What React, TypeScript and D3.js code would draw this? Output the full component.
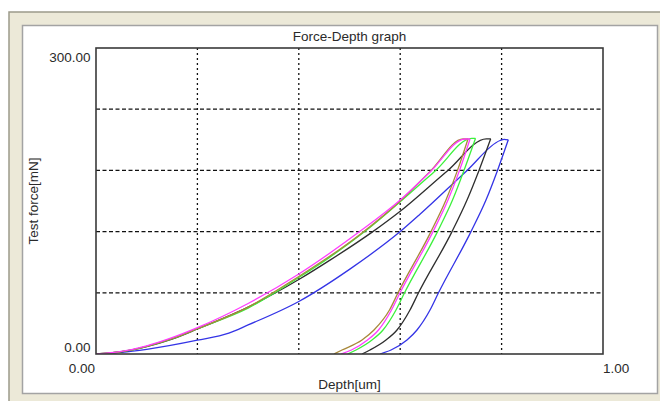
import React from "react";
import * as d3 from "d3";

// ---- data (depth [um], force [mN]) ----
const xTicks = [0, 0.2, 0.4, 0.6, 0.8, 1.0];
const yTicks = [0, 60, 120, 180, 240, 300];

const brownLoading: [number, number][] = [
  [0, 0], [0.05, 2.3], [0.1, 7.5], [0.15, 15], [0.2, 24.8], [0.3, 46], [0.4, 76],
  [0.4615, 96], [0.52, 117], [0.6, 150], [0.66, 179.5], [0.724, 210.8], [0.7337, 210.8],
];
const brownUnloading: [number, number][] = [
  [0.4694, 0], [0.4852, 3.9], [0.5247, 13.7], [0.5483, 23.5], [0.5789, 43.1], [0.5957, 60],
  [0.6607, 120], [0.6903, 151], [0.713, 180], [0.7337, 210.8],
];

const magentaLoading: [number, number][] = [
  [0, 0], [0.05, 2.5], [0.1, 8], [0.15, 16], [0.2, 25.8], [0.3, 49.5], [0.4, 78.4],
  [0.4615, 99], [0.52, 120], [0.6, 151], [0.66, 179], [0.728, 210.8], [0.7377, 210.8],
];
const magentaUnloading: [number, number][] = [
  [0.4832, 0], [0.5039, 3.9], [0.5355, 13.7], [0.5572, 23.5], [0.5828, 43.1], [0.5996, 60],
  [0.6647, 120], [0.6943, 151], [0.717, 180], [0.7377, 210.8],
];

const greenLoading: [number, number][] = [
  [0, 0], [0.05, 2.3], [0.1, 7.5], [0.15, 15], [0.2, 24.8], [0.3, 45], [0.4, 75],
  [0.4615, 95], [0.53, 120], [0.6, 149.3], [0.67, 180], [0.741, 211.4], [0.7485, 211.4],
];
const greenUnloading: [number, number][] = [
  [0.4961, 0], [0.5128, 3.9], [0.5444, 13.7], [0.5661, 23.5], [0.5917, 43.1], [0.6085, 60],
  [0.6736, 120], [0.7032, 151], [0.7258, 180], [0.7485, 211.4],
];

const blackLoading: [number, number][] = [
  [0, 0], [0.05, 2.2], [0.1, 7.3], [0.15, 14.6], [0.2, 24.5], [0.3, 46], [0.4, 73],
  [0.4615, 92], [0.546, 120], [0.6, 140], [0.694, 180], [0.77, 211], [0.7785, 211],
];
const blackUnloading: [number, number][] = [
  [0.5247, 0], [0.5404, 3.9], [0.572, 13.7], [0.5937, 23.5], [0.6193, 43.1], [0.6361, 60],
  [0.7022, 120], [0.7318, 151], [0.7554, 180], [0.7785, 211],
];

const blueLoading: [number, number][] = [
  [0, 0], [0.05, 1.6], [0.1, 4.6], [0.2, 13.5], [0.262, 20.5], [0.3, 28.5], [0.4, 51.5],
  [0.5, 83], [0.6, 120], [0.639, 137], [0.732, 180], [0.797, 209.3], [0.805, 210.5],
  [0.8132, 210],
];
const blueUnloading: [number, number][] = [
  [0.5602, 0], [0.5819, 3.9], [0.6134, 13.7], [0.6331, 23.5], [0.6588, 43.1], [0.6755, 60],
  [0.7396, 120], [0.7692, 151], [0.7919, 180], [0.8132, 210],
];

const seriesNames = ["blue", "black", "green", "brown", "magenta"];
const seriesColors = ["#3434e6", "#2e2e2e", "#3cf03c", "#a8883a", "#ff3cff"];
const seriesLoading = [blueLoading, blackLoading, greenLoading, brownLoading, magentaLoading];
const seriesUnloading = [blueUnloading, blackUnloading, greenUnloading, brownUnloading, magentaUnloading];

const fmt2 = d3.format(".2f");

export default function App() {
  const W = 660;
  const H = 401;
  const left = 96, right = 603, top = 48, bottom = 354;
  const x = d3.scaleLinear().domain([0, 1]).range([left, right]);
  const y = d3.scaleLinear().domain([0, 300]).range([bottom, top]);
  const line = d3
    .line<[number, number]>()
    .x((d) => x(d[0]))
    .y((d) => y(d[1]))
    .curve(d3.curveMonotoneX);

  const font = "'Liberation Sans', Arial, sans-serif";
  const textColor = "#2a2a2a";

  return (
    <svg
      width={W}
      height={H}
      style={{ position: "absolute", left: 0, top: 0, display: "block" }}
    >
      <rect x={0} y={0} width={W} height={H} fill="#ffffff" />
      {/* outer beige window */}
      <rect x={9} y={12} width={W} height={H} fill="#ece9d8" stroke="#9c9a8a" strokeWidth={1.5} />
      {/* inner white panel */}
      <rect x={22.5} y={25.5} width={635} height={368} fill="#ffffff" stroke="#a3a3a3" strokeWidth={1.5} />

      <defs>
        <clipPath id="plotclip">
          <rect x={left} y={top} width={right - left} height={bottom - top} />
        </clipPath>
      </defs>

      {/* grid */}
      {xTicks.slice(1, -1).map((t) => (
        <line
          key={"vx" + t}
          x1={x(t)}
          x2={x(t)}
          y1={top}
          y2={bottom}
          stroke="#111"
          strokeWidth={1.3}
          strokeDasharray="2,3"
        />
      ))}
      {yTicks.slice(1, -1).map((t) => (
        <line
          key={"hy" + t}
          x1={left}
          x2={right}
          y1={y(t)}
          y2={y(t)}
          stroke="#111"
          strokeWidth={1.3}
          strokeDasharray="4,2.5"
        />
      ))}

      {/* curves */}
      <g clipPath="url(#plotclip)" fill="none" strokeWidth={1.3} strokeLinejoin="round">
        {seriesNames.map((name, i) => (
          <g key={name}>
            <path d={line(seriesLoading[i]) || ""} stroke={seriesColors[i]} />
            <path d={line(seriesUnloading[i]) || ""} stroke={seriesColors[i]} />
          </g>
        ))}
      </g>

      {/* plot frame */}
      <rect
        x={left}
        y={top}
        width={right - left}
        height={bottom - top}
        fill="none"
        stroke="#3a3a3a"
        strokeWidth={1.6}
      />

      {/* texts */}
      <text x={(left + right) / 2} y={40.5} textAnchor="middle" fontFamily={font} fontSize={13.5} fill={textColor}>
        Force-Depth graph
      </text>
      <text x={90.5} y={62} textAnchor="end" fontFamily={font} fontSize={13.5} fill={textColor}>
        {fmt2(yTicks[yTicks.length - 1])}
      </text>
      <text x={90.5} y={351.5} textAnchor="end" fontFamily={font} fontSize={13.5} fill={textColor}>
        {fmt2(yTicks[0])}
      </text>
      <text x={95} y={373} textAnchor="end" fontFamily={font} fontSize={13.5} fill={textColor}>
        {fmt2(xTicks[0])}
      </text>
      <text x={603} y={373} textAnchor="start" fontFamily={font} fontSize={13.5} fill={textColor}>
        {fmt2(xTicks[xTicks.length - 1])}
      </text>
      <text x={(left + right) / 2} y={389} textAnchor="middle" fontFamily={font} fontSize={13.5} fill={textColor}>
        Depth[um]
      </text>
      <text
        transform={`translate(38, ${(top + bottom) / 2}) rotate(-90)`}
        textAnchor="middle"
        fontFamily={font}
        fontSize={13.5}
        fill={textColor}
      >
        Test force[mN]
      </text>
    </svg>
  );
}
